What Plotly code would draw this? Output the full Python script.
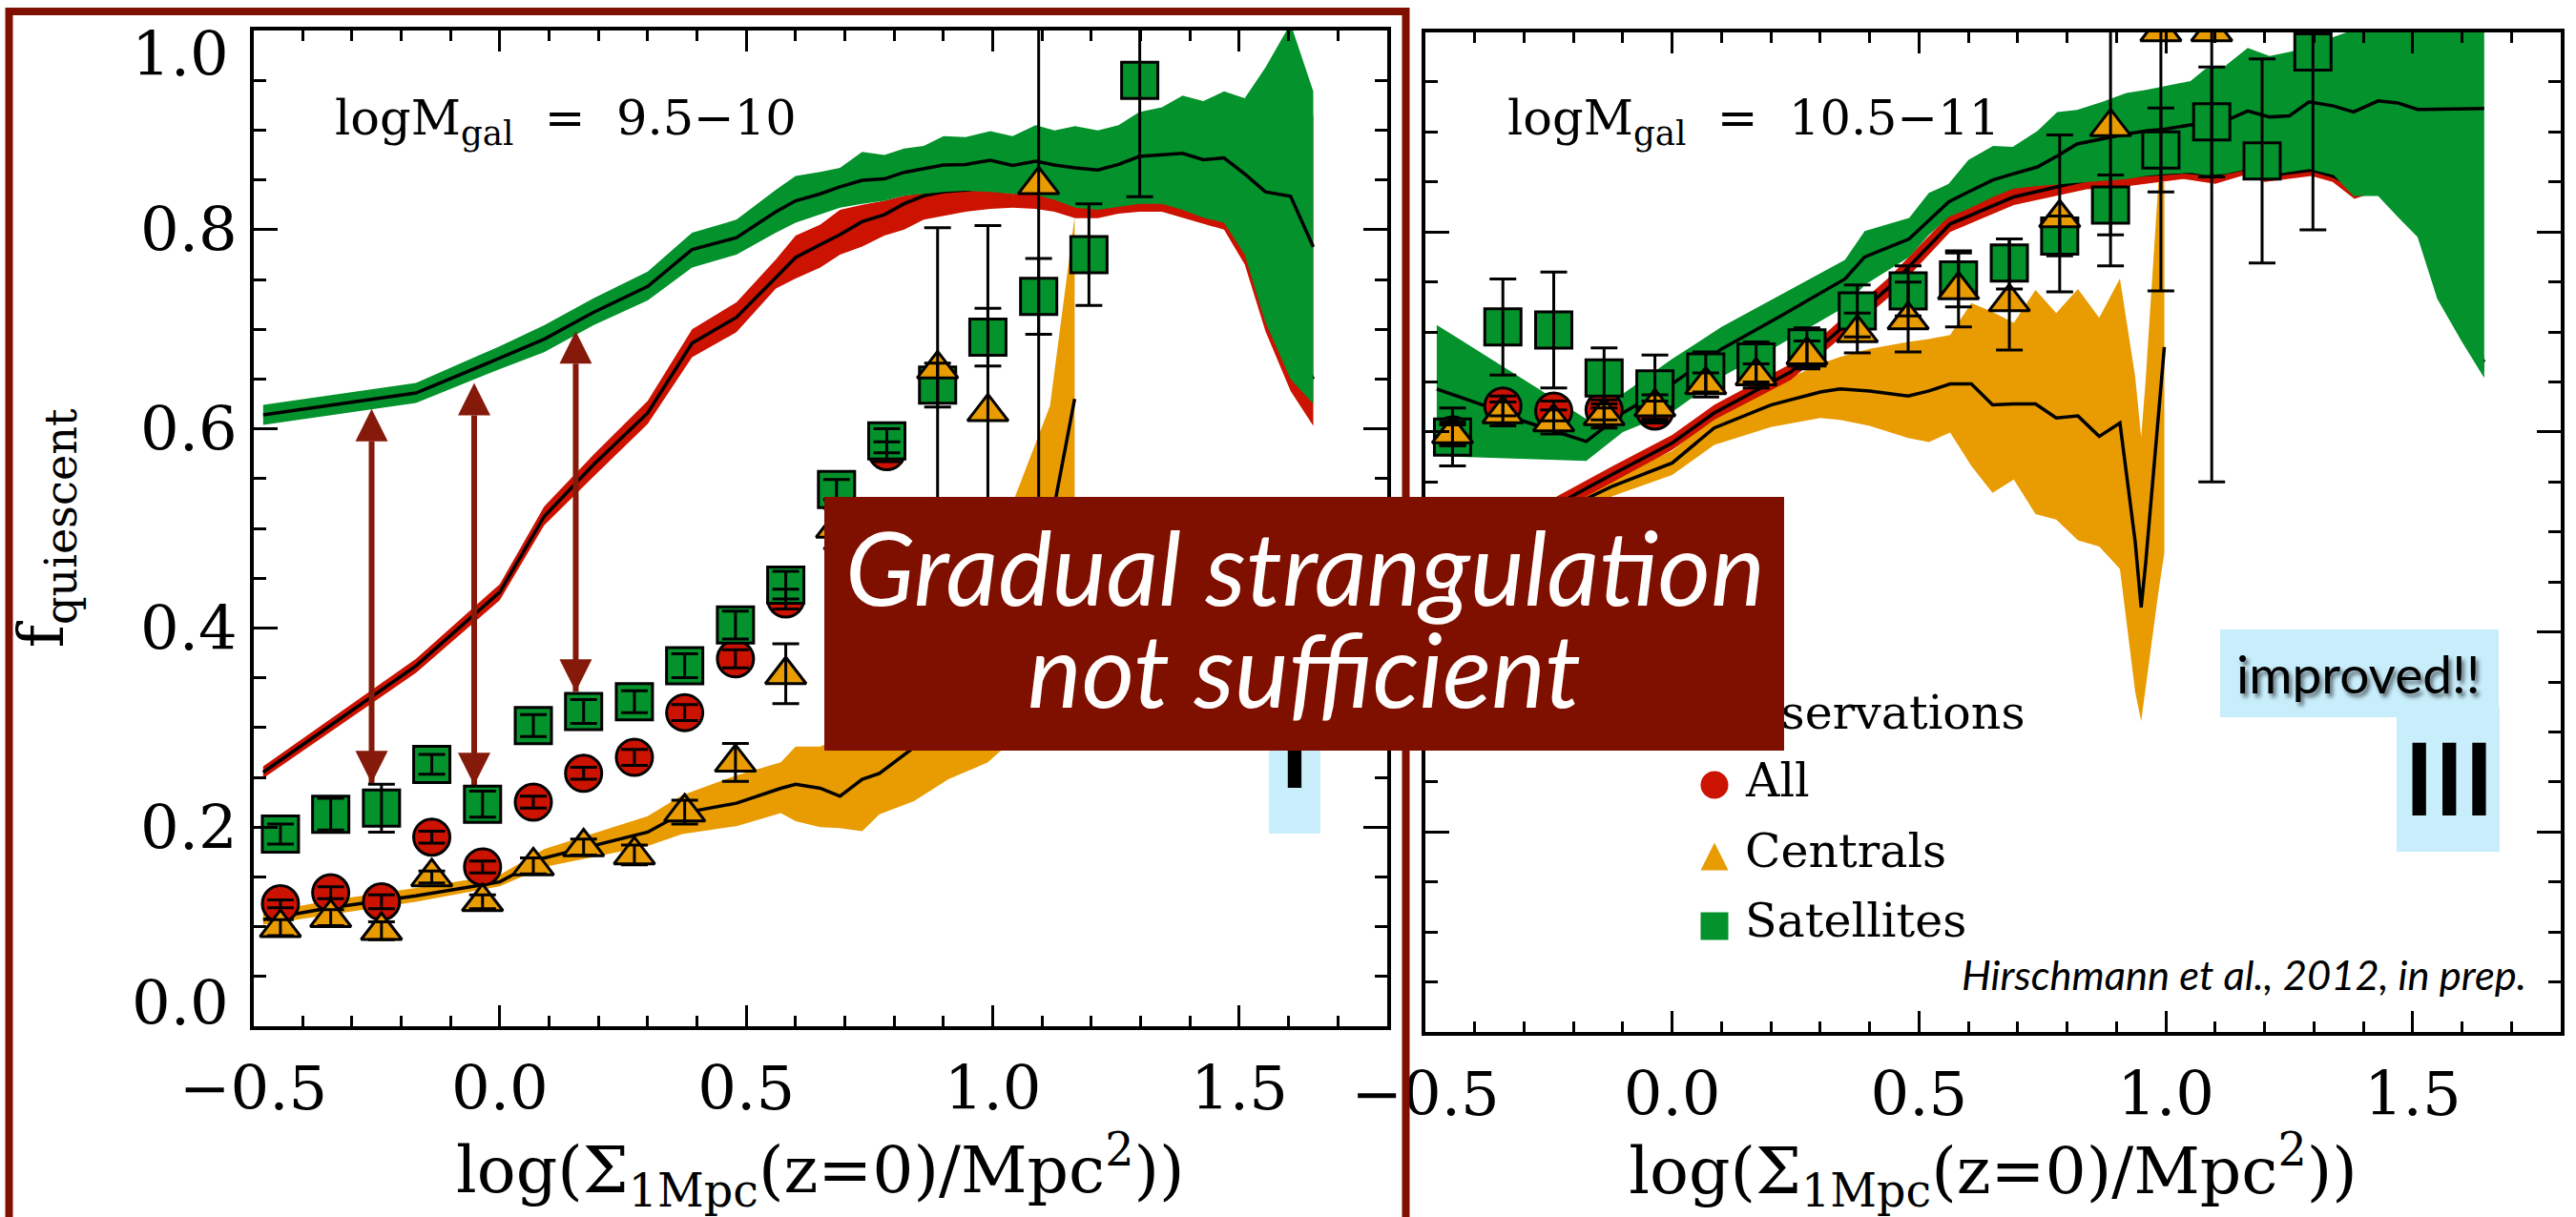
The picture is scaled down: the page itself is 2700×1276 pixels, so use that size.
import plotly.graph_objects as go

W, H = 2700, 1276
SERIF = "DejaVu Serif"
SANS = "Lato"

GREEN = "#03922b"
RED = "#cc1200"
ORANGE = "#e99b02"
DARKRED = "#7f1000"
ARROWRED = "#851a0b"
LIGHTBLUE = "#c8edfb"

# ---------------- observation bins (x) ----------------
X_OBS = [-0.445, -0.343, -0.240, -0.138, -0.035, 0.068, 0.170, 0.273, 0.375,
         0.478, 0.580, 0.683, 0.785, 0.888, 0.990, 1.093, 1.195, 1.298]

# ---------------- left panel: logM = 9.5-10 ----------------
SAT_L_Y = [0.193, 0.213, 0.219, 0.263, 0.223, 0.302, 0.316, 0.326, 0.362,
           0.403, 0.443, 0.539, 0.588, 0.644, 0.692, 0.733, 0.775, 0.950]
SAT_L_EUP = [0.010, 0.016, 0.024, 0.010, 0.013, 0.011, 0.012, 0.011, 0.012,
             0.014, 0.014, 0.010, 0.012, 0.022, 0.029, 0.038, 0.051, 0.120]
SAT_L_EDN = [0.010, 0.016, 0.024, 0.010, 0.013, 0.011, 0.012, 0.011, 0.012,
             0.014, 0.014, 0.010, 0.012, 0.022, 0.029, 0.038, 0.051, 0.117]

ALL_L_IDX = [0, 1, 2, 3, 4, 5, 6, 7, 8, 9, 10, 12]
ALL_L_Y = [0.123, 0.134, 0.125, 0.190, 0.160, 0.225, 0.254, 0.270, 0.315,
           0.369, 0.429, 0.577]
ALL_L_E = [0.004, 0.006, 0.007, 0.006, 0.006, 0.006, 0.006, 0.008, 0.008,
           0.009, 0.010, 0.010]

CEN_L_Y = [0.099, 0.109, 0.096, 0.150, 0.125, 0.161, 0.180, 0.172, 0.215,
           0.265, 0.353, 0.500, 0.450, 0.660, 0.617, 0.845]
CEN_L_EUP = [0.008, 0.008, 0.009, 0.006, 0.007, 0.008, 0.008, 0.010, 0.012,
             0.019, 0.031, 0.020, 0.050, 0.142, 0.187, 0.250]
CEN_L_EDN = [0.008, 0.008, 0.009, 0.006, 0.007, 0.008, 0.008, 0.010, 0.012,
             0.019, 0.029, 0.020, 0.050, 0.300, 0.250, 0.450]

# model bands (left)
X_ML = [-0.48, -0.17, 0.0, 0.09, 0.19, 0.30, 0.39, 0.48, 0.56, 0.60, 0.65, 0.69,
        0.735, 0.78, 0.82, 0.86, 0.90, 0.945, 0.995, 1.04, 1.087, 1.125, 1.167,
        1.213, 1.255, 1.297, 1.343, 1.385, 1.427, 1.469, 1.511, 1.553, 1.604, 1.65]
RED_L_C = [0.255, 0.362, 0.436, 0.512, 0.564, 0.616, 0.686, 0.712, 0.752, 0.772,
           0.785, 0.795, 0.808, 0.815, 0.826, 0.834, 0.838, 0.840, 0.842, 0.842,
           0.838, 0.833, 0.826, 0.826, 0.830, 0.831, 0.832, 0.826, 0.820, 0.810,
           0.790, 0.750, 0.700, 0.650]
RED_L_LO = [0.249, 0.355, 0.428, 0.503, 0.552, 0.605, 0.672, 0.697, 0.741, 0.751,
            0.762, 0.775, 0.783, 0.794, 0.800, 0.810, 0.814, 0.818, 0.821, 0.822,
            0.821, 0.818, 0.8115, 0.8115, 0.816, 0.818, 0.818, 0.8115, 0.806, 0.800,
            0.765, 0.698, 0.638, 0.603]
RED_L_HI = [0.261, 0.369, 0.444, 0.522, 0.574, 0.628, 0.700, 0.727, 0.770, 0.794,
            0.805, 0.820, 0.825, 0.829, 0.834, 0.837, 0.838, 0.839, 0.839, 0.836,
            0.838, 0.834, 0.826, 0.826, 0.830, 0.834, 0.834, 0.830, 0.826, 0.820,
            0.820, 0.840, 0.880, 0.915]
GRN_L_C = [0.614, 0.636, 0.671, 0.690, 0.717, 0.743, 0.780, 0.792, 0.818, 0.829,
           0.836, 0.843, 0.8496, 0.851, 0.8576, 0.861, 0.865, 0.8655, 0.8697, 0.8646,
           0.8687, 0.865, 0.862, 0.860, 0.8655, 0.8735, 0.875, 0.8767, 0.8703, 0.872,
           0.856, 0.838, 0.8336, 0.7827]
GRN_L_HI = [0.624, 0.646, 0.683, 0.704, 0.731, 0.758, 0.797, 0.810, 0.840, 0.854,
            0.858, 0.862, 0.878, 0.875, 0.8815, 0.884, 0.894, 0.893, 0.899, 0.894,
            0.905, 0.8996, 0.904, 0.8996, 0.905, 0.918, 0.923, 0.9346, 0.929, 0.939,
            0.932, 0.963, 1.007, 0.939]
GRN_L_LO = [0.604, 0.626, 0.660, 0.677, 0.704, 0.729, 0.762, 0.775, 0.797, 0.807,
            0.815, 0.822, 0.826, 0.829, 0.834, 0.836, 0.838, 0.839, 0.838, 0.836,
            0.835, 0.830, 0.822, 0.820, 0.823, 0.826, 0.826, 0.820, 0.812, 0.807,
            0.775, 0.707, 0.650, 0.625]
X_OL = [-0.48, -0.35, -0.17, 0.0, 0.09, 0.30, 0.37, 0.48, 0.57, 0.60, 0.65, 0.69,
        0.735, 0.77, 0.84, 0.91, 0.99, 1.046, 1.116, 1.166]
ORA_L_C = [0.107, 0.1185, 0.131, 0.145, 0.169, 0.195, 0.214, 0.224, 0.239, 0.243,
           0.239, 0.231, 0.248, 0.254, 0.280, 0.310, 0.350, 0.400, 0.500, 0.630]
ORA_L_HI = [0.114, 0.126, 0.139, 0.152, 0.178, 0.211, 0.232, 0.252, 0.265, 0.281,
            0.281, 0.290, 0.300, 0.310, 0.330, 0.370, 0.420, 0.533, 0.623, 0.813]
ORA_L_LO = [0.102, 0.112, 0.125, 0.1405, 0.160, 0.181, 0.193, 0.201, 0.214, 0.206,
            0.200, 0.199, 0.196, 0.213, 0.226, 0.248, 0.265, 0.290, 0.360, 0.450]

# arrows (left panel)
ARROW_X = [-0.26, -0.052, 0.154]
ARROW_TOP = [0.620, 0.646, 0.698]
ARROW_BOT = [0.244, 0.242, 0.336]

# ---------------- right panel: logM = 10.5-11 ----------------
SAT_R_Y = [0.595, 0.705, 0.702, 0.654, 0.643, 0.660, 0.670, 0.684, 0.721,
           0.741, 0.752, 0.769, 0.796, 0.827, 0.882, 0.910, 0.871, 0.980]
SAT_R_EUP = [0.029, 0.048, 0.058, 0.030, 0.034, 0.020, 0.020, 0.020, 0.026,
             0.025, 0.027, 0.024, 0.020, 0.030, 0.042, 0.055, 0.102, 0.100]
SAT_R_EDN = [0.029, 0.048, 0.058, 0.030, 0.034, 0.020, 0.020, 0.020, 0.026,
             0.025, 0.027, 0.026, 0.020, 0.030, 0.042, 0.055, 0.102, 0.178]

ALL_R_Y = [0.597, 0.626, 0.621, 0.622, 0.621]
ALL_R_E = [0.010, 0.010, 0.010, 0.010, 0.010]

CEN_R_Y = [0.598, 0.618, 0.610, 0.616, 0.625, 0.647, 0.656, 0.677, 0.699,
           0.712, 0.742, 0.730, 0.814, 0.905, 1.000, 1.000]
CEN_R_EUP = [0.012, 0.012, 0.012, 0.012, 0.012, 0.012, 0.012, 0.014, 0.020,
             0.038, 0.039, 0.063, 0.083, 0.150, 0.100, 0.100]
CEN_R_EDN = [0.012, 0.012, 0.012, 0.012, 0.012, 0.012, 0.012, 0.014, 0.020,
             0.032, 0.037, 0.048, 0.074, 0.139, 0.259, 0.450]

X_RR = [-0.48, -0.232, -0.12, 0.0, 0.085, 0.24, 0.44, 0.563, 0.692, 0.839, 0.925,
        1.037, 1.10, 1.158, 1.20, 1.295, 1.338, 1.382, 1.425, 1.507, 1.55, 1.645]
RED_R_C = [0.450, 0.528, 0.558, 0.589, 0.619, 0.660, 0.745, 0.808, 0.835, 0.852,
           0.856, 0.860, 0.857, 0.863, 0.856, 0.862, 0.856, 0.845, 0.845, 0.810,
           0.750, 0.670]
RED_R_LO = [0.440, 0.520, 0.550, 0.582, 0.612, 0.652, 0.735, 0.800, 0.827, 0.8427,
            0.846, 0.853, 0.848, 0.8566, 0.850, 0.856, 0.850, 0.833, 0.840, 0.800,
            0.740, 0.660]
RED_R_HI = [0.460, 0.536, 0.566, 0.597, 0.627, 0.668, 0.755, 0.818, 0.845, 0.858,
            0.862, 0.866, 0.864, 0.868, 0.862, 0.868, 0.862, 0.850, 0.850, 0.815,
            0.755, 0.675]
X_GR = [-0.477, -0.384, -0.315, -0.174, -0.10, 0.0, 0.10, 0.22, 0.35, 0.39, 0.48,
        0.52, 0.56, 0.60, 0.65, 0.69, 0.74, 0.78, 0.82, 0.87, 0.92, 0.96, 1.0, 1.05,
        1.08, 1.12, 1.166, 1.21, 1.25, 1.29, 1.34, 1.38, 1.43, 1.47, 1.51, 1.55,
        1.60, 1.645]
GRN_R_C = [0.643, 0.627, 0.613, 0.5905, 0.619, 0.648, 0.683, 0.716, 0.753, 0.775,
           0.793, 0.812, 0.830, 0.840, 0.852, 0.858, 0.865, 0.876, 0.888, 0.893,
           0.898, 0.901, 0.903, 0.907, 0.909, 0.911, 0.921, 0.915, 0.916, 0.930,
           0.926, 0.920, 0.931, 0.929, 0.9225, 0.923, 0.923, 0.9235]
GRN_R_HI = [0.707, 0.678, 0.657, 0.613, 0.638, 0.673, 0.705, 0.737, 0.772, 0.801,
            0.814, 0.839, 0.848, 0.872, 0.886, 0.885, 0.901, 0.920, 0.922, 0.930,
            0.939, 0.942, 0.946, 0.951, 0.963, 0.966, 0.984, 0.976, 0.980, 0.985,
            0.995, 1.002, 1.020, 1.020, 1.020, 1.020, 1.020, 1.020]
GRN_R_LO = [0.576, 0.574, 0.573, 0.571, 0.600, 0.620, 0.655, 0.688, 0.725, 0.747,
            0.775, 0.797, 0.815, 0.823, 0.835, 0.843, 0.846, 0.848, 0.849, 0.851,
            0.853, 0.856, 0.858, 0.859, 0.857, 0.858, 0.863, 0.857, 0.860, 0.863,
            0.857, 0.836, 0.836, 0.815, 0.795, 0.733, 0.690, 0.654]
X_OR = [-0.48, -0.25, -0.12, 0.0, 0.085, 0.20, 0.30, 0.34, 0.40, 0.478, 0.52, 0.563,
        0.606, 0.649, 0.692, 0.736, 0.778, 0.822, 0.865, 0.907, 0.938, 0.95, 0.959,
        0.985, 0.997]
ORA_R_C = [0.440, 0.515, 0.546, 0.569, 0.604, 0.627, 0.640, 0.643, 0.641, 0.636,
           0.641, 0.648, 0.648, 0.627, 0.628, 0.628, 0.614, 0.616, 0.5955, 0.609,
           0.490, 0.4245, 0.468, 0.620, 0.685]
ORA_R_HI = [0.455, 0.530, 0.555, 0.581, 0.615, 0.645, 0.668, 0.675, 0.683, 0.690,
            0.693, 0.697, 0.729, 0.720, 0.709, 0.742, 0.719, 0.743, 0.714, 0.7535,
            0.655, 0.595, 0.651, 0.850, 0.850]
ORA_R_LO = [0.425, 0.500, 0.536, 0.557, 0.587, 0.605, 0.614, 0.612, 0.606, 0.594,
            0.590, 0.5995, 0.566, 0.539, 0.5525, 0.518, 0.5124, 0.4917, 0.4854,
            0.4631, 0.340, 0.3106, 0.340, 0.440, 0.479]

X_TICKS = [-0.5, 0.0, 0.5, 1.0, 1.5]
X_TICKTEXT = ["\u22120.5", "0.0", "0.5", "1.0", "1.5"]
Y_TICKS = [0.2, 0.4, 0.6, 0.8]
Y_TICKTEXT = ["0.2", "0.4", "0.6", "0.8"]

LEGEND_TEXT = ["All", "Centrals", "Satellites"]


def px(x):
    return x / W


def py(y):
    return 1 - y / H


fig = go.Figure()


def band(x, lo, hi, color, xa, ya):
    fig.add_trace(go.Scatter(
        x=list(x) + list(x)[::-1], y=list(hi) + list(lo)[::-1],
        fill="toself", fillcolor=color, mode="lines",
        line=dict(width=0, color=color), hoverinfo="skip",
        showlegend=False, xaxis=xa, yaxis=ya))


def cline(x, c, xa, ya):
    fig.add_trace(go.Scatter(
        x=x, y=c, mode="lines", line=dict(color="black", width=3.5),
        hoverinfo="skip", showlegend=False, xaxis=xa, yaxis=ya))


def markers(x, y, symbol, color, size, xa, ya, name):
    fig.add_trace(go.Scatter(
        x=x, y=y, mode="markers", name=name,
        marker=dict(symbol=symbol, size=size, color=color,
                    line=dict(color="black", width=3)),
        showlegend=False, xaxis=xa, yaxis=ya))


def errs(x, y, up, dn, xa, ya):
    fig.add_trace(go.Scatter(
        x=x, y=y, mode="markers",
        marker=dict(size=1, color="rgba(0,0,0,0)"),
        error_y=dict(type="data", symmetric=False, array=up, arrayminus=dn,
                     color="black", thickness=3, width=14),
        hoverinfo="skip", showlegend=False, xaxis=xa, yaxis=ya))


# ---- left panel ----
band(X_OL, ORA_L_LO, ORA_L_HI, ORANGE, "x", "y")
cline(X_OL, ORA_L_C, "x", "y")
band(X_ML, RED_L_LO, RED_L_HI, RED, "x", "y")
cline(X_ML, RED_L_C, "x", "y")
band(X_ML, GRN_L_LO, GRN_L_HI, GREEN, "x", "y")
cline(X_ML, GRN_L_C, "x", "y")

# double-headed arrows (model vs observed offset)
for ax_x, top, bot in zip(ARROW_X, ARROW_TOP, ARROW_BOT):
    fig.add_trace(go.Scatter(
        x=[ax_x, ax_x], y=[bot, top], mode="lines+markers",
        line=dict(color=ARROWRED, width=6),
        marker=dict(symbol=["arrow-down", "arrow-up"], size=34, color=ARROWRED,
                    line=dict(width=0)),
        hoverinfo="skip", showlegend=False, xaxis="x", yaxis="y"))

all_l_x = [X_OBS[i] for i in ALL_L_IDX]
cen_l_x = X_OBS[:len(CEN_L_Y)]
markers(all_l_x, ALL_L_Y, "circle", RED, 38, "x", "y", "All")
markers(X_OBS, SAT_L_Y, "square", GREEN, 38, "x", "y", "Satellites")
markers(cen_l_x, CEN_L_Y, "triangle-up", ORANGE, 37, "x", "y", "Centrals")
errs(all_l_x, ALL_L_Y, ALL_L_E, ALL_L_E, "x", "y")
errs(X_OBS, SAT_L_Y, SAT_L_EUP, SAT_L_EDN, "x", "y")
errs(cen_l_x, CEN_L_Y, CEN_L_EUP, CEN_L_EDN, "x", "y")

# ---- right panel ----
band(X_OR, ORA_R_LO, ORA_R_HI, ORANGE, "x2", "y2")
cline(X_OR, ORA_R_C, "x2", "y2")
band(X_RR, RED_R_LO, RED_R_HI, RED, "x2", "y2")
cline(X_RR, RED_R_C, "x2", "y2")
band(X_GR, GRN_R_LO, GRN_R_HI, GREEN, "x2", "y2")
cline(X_GR, GRN_R_C, "x2", "y2")

all_r_x = X_OBS[:len(ALL_R_Y)]
cen_r_x = X_OBS[:len(CEN_R_Y)]
markers(all_r_x, ALL_R_Y, "circle", RED, 38, "x2", "y2", "All")
markers(X_OBS, SAT_R_Y, "square", GREEN, 38, "x2", "y2", "Satellites")
markers(cen_r_x, CEN_R_Y, "triangle-up", ORANGE, 37, "x2", "y2", "Centrals")
errs(all_r_x, ALL_R_Y, ALL_R_E, ALL_R_E, "x2", "y2")
errs(X_OBS, SAT_R_Y, SAT_R_EUP, SAT_R_EDN, "x2", "y2")
errs(cen_r_x, CEN_R_Y, CEN_R_EUP, CEN_R_EDN, "x2", "y2")

# ---- page-pixel overlay: texts that sit underneath the red box ----
fig.add_trace(go.Scatter(
    x=[1357], y=[799], mode="text", text=["I"], textposition="middle center",
    textfont=dict(family=SANS, size=106, color="black", weight="bold"),
    hoverinfo="skip", showlegend=False, xaxis="x3", yaxis="y3"))
fig.add_trace(go.Scatter(
    x=[1795], y=[752], mode="text", text=["Observations"],
    textposition="middle right",
    textfont=dict(family=SERIF, size=49, color="black"),
    hoverinfo="skip", showlegend=False, xaxis="x3", yaxis="y3"))

# ---- axes ----
tickfont = dict(family=SERIF, size=64, color="black")
axis_common = dict(showline=True, linecolor="black", linewidth=4,
                   mirror="allticks", ticks="inside", tickcolor="black",
                   tickwidth=3, showgrid=False, zeroline=False,
                   tickfont=tickfont, automargin=False, fixedrange=True)
x_common = dict(axis_common, range=[-0.5, 1.8], tickmode="array",
                tickvals=X_TICKS, ticktext=X_TICKTEXT, ticklen=22,
                ticklabelstandoff=6,
                minor=dict(tickmode="linear", tick0=0, dtick=0.1, ticks="inside",
                           ticklen=11, tickwidth=3, tickcolor="black"))
y_common = dict(axis_common, range=[0, 1], tickmode="array",
                tickvals=Y_TICKS, ticktext=Y_TICKTEXT, ticklen=25,
                ticklabelstandoff=0,
                minor=dict(tickmode="linear", tick0=0, dtick=0.05, ticks="inside",
                           ticklen=13, tickwidth=3, tickcolor="black"))

xtitle = "log(\u03a3<sub>1Mpc</sub>(z=0)/Mpc<sup>2</sup>))"
fig.update_layout(
    xaxis=dict(x_common, domain=[265.5 / W, 1454 / W], anchor="y",
               title=dict(text=xtitle, font=dict(family=SERIF, size=68, color="black"),
                          standoff=10)),
    yaxis=dict(y_common, domain=[py(1076), py(32)], anchor="x",
               title=dict(text="f<sub>quiescent</sub>",
                          font=dict(family=SERIF, size=66, color="black"),
                          standoff=60)),
    xaxis2=dict(x_common, domain=[1494 / W, 2684 / W], anchor="y2",
                title=dict(text=xtitle, font=dict(family=SERIF, size=68, color="black"),
                           standoff=10)),
    yaxis2=dict(y_common, domain=[py(1082), py(33.5)], anchor="x2",
                showticklabels=False),
    xaxis3=dict(domain=[0, 1], range=[0, W], visible=False, anchor="y3",
                automargin=False, fixedrange=True),
    yaxis3=dict(domain=[0, 1], range=[H, 0], visible=False, anchor="x3",
                automargin=False, fixedrange=True),
)

# ---- annotations ----
ann = []
ann.append(dict(text="logM<sub>gal</sub>\u00a0\u00a0=\u00a0\u00a09.5\u221210",
                x=px(349), y=py(127), xref="paper", yref="paper",
                xanchor="left", yanchor="middle", showarrow=False,
                font=dict(family=SERIF, size=51, color="black")))
ann.append(dict(text="logM<sub>gal</sub>\u00a0\u00a0=\u00a0\u00a010.5\u221211",
                x=px(1578), y=py(127), xref="paper", yref="paper",
                xanchor="left", yanchor="middle", showarrow=False,
                font=dict(family=SERIF, size=51, color="black")))
ann.append(dict(text="Gradual strangulation", x=px(1368), y=py(594),
                xref="paper", yref="paper", xanchor="center", yanchor="middle",
                showarrow=False,
                font=dict(family=SANS, size=107, color="white", style="italic")))
ann.append(dict(text="not sufficient", x=px(1367), y=py(701),
                xref="paper", yref="paper", xanchor="center", yanchor="middle",
                showarrow=False,
                font=dict(family=SANS, size=107, color="white", style="italic")))
ann.append(dict(text="improved!!", x=px(2472), y=py(706), xref="paper", yref="paper",
                xanchor="center", yanchor="middle", showarrow=False,
                font=dict(family=SANS, size=55, color="black",
                          shadow="3px 4px 4px rgba(0,0,0,0.55)")))
ann.append(dict(text="III", x=px(2567), y=py(814), xref="paper", yref="paper",
                xanchor="center", yanchor="middle", showarrow=False,
                font=dict(family=SANS, size=106, color="black", weight="bold")))
for label, yc in zip(LEGEND_TEXT, [818, 892, 965]):
    ann.append(dict(text=label, x=px(1827), y=py(yc), xref="paper", yref="paper",
                    xanchor="left", yanchor="middle", showarrow=False,
                    font=dict(family=SERIF, size=49, color="black")))
ann.append(dict(text="Hirschmann et al., 2012, in prep.", x=px(2054), y=py(1021),
                xref="paper", yref="paper", xanchor="left", yanchor="middle",
                showarrow=False,
                font=dict(family=SANS, size=43.5, color="black", style="italic")))
# end tick labels of the left y axis
ann.append(dict(text="1.0", x=px(242), y=py(57.5), xref="paper", yref="paper",
                xanchor="right", yanchor="middle", showarrow=False, font=tickfont))
ann.append(dict(text="0.0", x=px(242), y=py(1052), xref="paper", yref="paper",
                xanchor="right", yanchor="middle", showarrow=False, font=tickfont))

# ---- shapes ----
shapes = []
# light-blue label box behind "I" (under traces)
shapes.append(dict(type="rect", xref="paper", yref="paper",
                   x0=px(1330), x1=px(1384), y0=py(700), y1=py(874),
                   fillcolor=LIGHTBLUE, line=dict(width=0), layer="below"))
# frame around left panel
shapes.append(dict(type="rect", xref="paper", yref="paper",
                   x0=px(9.5), x1=px(1473.5), y0=py(12), y1=py(1300),
                   line=dict(color=DARKRED, width=8), layer="above"))
# "Gradual strangulation" box
shapes.append(dict(type="rect", xref="paper", yref="paper",
                   x0=px(864), x1=px(1870), y0=py(521), y1=py(787),
                   fillcolor=DARKRED, line=dict(width=0), layer="above"))
for (x0, x1, y0, y1) in [(2327, 2619, 660, 752), (2512, 2620, 741, 893)]:
    shapes.append(dict(type="rect", xref="paper", yref="paper",
                       x0=px(x0), x1=px(x1), y0=py(y0), y1=py(y1),
                       fillcolor=LIGHTBLUE, line=dict(width=0), layer="above"))
# legend symbols
shapes.append(dict(type="circle", xref="paper", yref="paper",
                   x0=px(1782.5), x1=px(1811.5), y0=py(808.5), y1=py(837.5),
                   fillcolor=RED, line=dict(width=0), layer="above"))
shapes.append(dict(type="path", xref="paper", yref="paper",
                   path="M {},{} L {},{} L {},{} Z".format(
                       px(1797), py(883.5), px(1782.5), py(912.5), px(1811.5), py(912.5)),
                   fillcolor=ORANGE, line=dict(width=0), layer="above"))
shapes.append(dict(type="rect", xref="paper", yref="paper",
                   x0=px(1782.5), x1=px(1811.5), y0=py(956.5), y1=py(985.5),
                   fillcolor=GREEN, line=dict(width=0), layer="above"))

fig.update_layout(
    width=W, height=H, autosize=False,
    margin=dict(l=0, r=0, t=0, b=0, pad=0),
    paper_bgcolor="white", plot_bgcolor="rgba(0,0,0,0)",
    showlegend=False, annotations=ann, shapes=shapes,
    font=dict(family=SERIF, color="black"),
)

fig.write_html("out.html", config={"displayModeBar": False},
               post_script="document.body.style.margin='0';document.body.style.overflow='hidden';")
